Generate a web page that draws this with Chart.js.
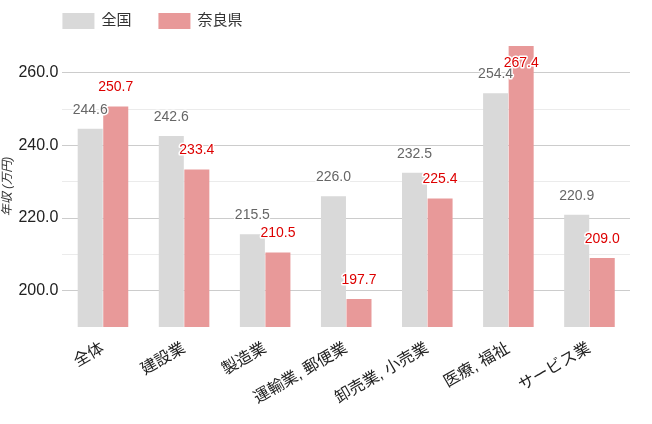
<!DOCTYPE html>
<html>
<head>
<meta charset="utf-8">
<script src="https://cdn.jsdelivr.net/npm/chart.js@4"></script>
<style>
  html, body { margin: 0; padding: 0; background: #fff; }
  #wrap { width: 652px; height: 424px; position: relative; }
</style>
</head>
<body>
<div id="wrap"><canvas id="chart"></canvas></div>
<script>
'use strict';

// ── Data ──────────────────────────────────────────────────────────────────────
const categories = ['全体', '建設業', '製造業', '運輸業, 郵便業', '卸売業, 小売業', '医療, 福祉', 'サービス業'];
const national   = [244.6, 242.6, 215.5, 226.0, 232.5, 254.4, 220.9];   // 全国
const nara       = [250.7, 233.4, 210.5, 197.7, 225.4, 267.4, 209.0];   // 奈良県
const seriesNames = ['全国', '奈良県'];
const yTitle      = '年収 (万円)';

const FONT = '"Liberation Sans", Arial, "Noto Sans CJK JP", sans-serif';
const labelColors = ['#666666', '#dd0000'];

// ── Plugins ───────────────────────────────────────────────────────────────────
// simple legend above the plot, left edge aligned with the chart area
const topLegend = {
    id: 'topLegend',
    afterDraw(chart) {
        const ctx = chart.ctx;
        let x = chart.chartArea.left;
        ctx.save();
        ctx.font = '15px ' + FONT;
        ctx.textBaseline = 'middle';
        chart.data.datasets.forEach(ds => {
            ctx.fillStyle = ds.backgroundColor;
            ctx.fillRect(x, 13, 32, 16);
            ctx.fillStyle = '#333';
            ctx.fillText(ds.label, x + 39, 21);
            x += 39 + ctx.measureText(ds.label).width + 27;
        });
        ctx.restore();
    }
};

// value labels above each bar, white halo, kept inside the plot area
const barValues = {
    id: 'barValues',
    afterDatasetsDraw(chart) {
        const ctx = chart.ctx;
        const top = chart.chartArea.top;
        ctx.save();
        ctx.font = '14px ' + FONT;
        ctx.textAlign = 'center';
        ctx.textBaseline = 'middle';
        ctx.lineJoin = 'round';
        chart.data.datasets.forEach((ds, di) => {
            chart.getDatasetMeta(di).data.forEach((bar, i) => {
                const txt = ds.data[i].toFixed(1);
                const y = Math.max(bar.y - 19, top + 17);
                ctx.strokeStyle = '#fff';
                ctx.lineWidth = 3;
                ctx.strokeText(txt, bar.x, y);
                ctx.fillStyle = labelColors[di];
                ctx.fillText(txt, bar.x, y);
            });
        });
        ctx.restore();
    }
};

// ── Chart ─────────────────────────────────────────────────────────────────────
const isMajor = v => Math.abs(v % 20) < 1e-6;
const isStep  = v => Math.abs(v % 10) < 1e-6;

new Chart(document.getElementById('chart'), {
    type: 'bar',
    data: {
        labels: categories,
        datasets: [
            { label: seriesNames[0], data: national, backgroundColor: '#d9d9d9' },
            { label: seriesNames[1], data: nara,     backgroundColor: '#e89999' }
        ]
    },
    options: {
        responsive: true,
        maintainAspectRatio: false,
        animation: false,
        devicePixelRatio: 1,
        categoryPercentage: 0.63,
        barPercentage: 0.98,
        layout: { padding: { top: 46, right: 22, bottom: 12, left: 0 } },
        scales: {
            x: {
                grid: { display: false },
                border: { display: false },
                ticks: {
                    color: '#222',
                    font: { family: FONT, size: 16 },
                    minRotation: 30,
                    maxRotation: 30,
                    autoSkip: false,
                    padding: 4
                }
            },
            y: {
                min: 190,
                max: Math.max(...national, ...nara),
                border: { display: false },
                grid: {
                    drawTicks: false,
                    color: c => isMajor(c.tick.value) && c.tick.value > 190 ? '#cccccc'
                              : isStep(c.tick.value) && c.tick.value > 190 ? '#ebebeb'
                              : 'rgba(0,0,0,0)'
                },
                ticks: {
                    stepSize: 10,
                    color: '#222',
                    padding: 4,
                    font: { family: FONT, size: 16 },
                    callback: v => (isMajor(v) && v > 190) ? Number(v).toFixed(1) : ''
                },
                title: {
                    display: true,
                    text: yTitle,
                    color: '#333',
                    font: { family: FONT, size: 12, style: 'italic' },
                    padding: { top: 0, bottom: 0 }
                }
            }
        },
        plugins: {
            legend: { display: false },
            tooltip: { enabled: false }
        }
    },
    plugins: [topLegend, barValues]
});
</script>
</body>
</html>
